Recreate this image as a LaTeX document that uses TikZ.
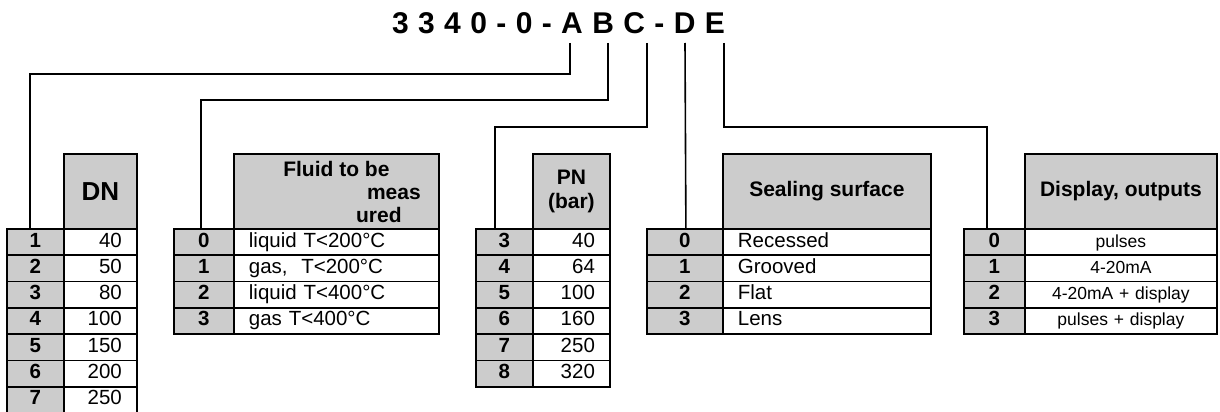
\documentclass[tikz,border=0pt]{standalone}
\usepackage{fontspec}
\setmainfont{Liberation Sans}
\usetikzlibrary{positioning, calc}

\newcommand{\setpx}[2]{\fontsize{#1}{#2}\selectfont}

\begin{document}
\begin{tikzpicture}[
    x=1pt, y=-1pt,
    cell/.style={draw=black, line width=1.8pt, minimum height=26.3pt, inner sep=0pt, anchor=north west},
    keycell/.style={cell, fill=gray!40, font=\bfseries\setpx{20.5}{24}, text height=14pt, text depth=4pt},
    valcell/.style={cell, fill=white, font=\setpx{20.5}{24}, inner xsep=15pt, text height=14pt, text depth=4pt},
    headcell/.style={cell, fill=gray!40, font=\bfseries\setpx{21}{24}, minimum height=75.3pt, align=center},
    codetitle/.style={font={\bfseries\setpx{30}{36}\spaceskip=9.4pt\relax}, anchor=base, inner sep=0pt},
    link/.style={line width=1.6pt}
]
    \useasboundingbox (0,0) rectangle (1220,412);

    % Order code
    \node[codetitle] (code) at (558.5,34) {3 3 4 0 - 0 - A B C - D E};
    \coordinate (cA) at (570,43);
    \coordinate (cB) at (608,43);
    \coordinate (cC) at (647,43);
    \coordinate (cD) at (685,43);
    \coordinate (cE) at (724,43);

    % A: nominal diameter
    \node[headcell, minimum width=73pt, font=\bfseries\setpx{26}{30}] (dn-head) at (63,153) {DN};
    \foreach \k/\v [count=\i from 0] in {1/40, 2/50, 3/80, 4/100, 5/150, 6/200, 7/250} {
        \node[keycell, minimum width=57pt] (dn-k\k) at (6,{228+26.3*\i}) {\k};
        \node[valcell, text width=43pt, align=right] (dn-v\k) at (63,{228+26.3*\i}) {\v};
    }

    % B: fluid
    \node[headcell, minimum width=205pt, font=\bfseries\setpx{21}{23}] (fl-head) at (233,153)
        {Fluid to be\\\hspace*{115pt}meas\\\hspace*{85pt}ured};
    \foreach \k/\v [count=\i from 0] in {0/liquid T<200°C, 1/{gas,~ T<200°C}, 2/liquid T<400°C, 3/gas T<400°C} {
        \node[keycell, minimum width=60pt] (fl-k\k) at (173,{228+26.3*\i}) {\k};
        \node[valcell, text width=175pt, align=left] (fl-v\k) at (233,{228+26.3*\i}) {\v};
    }

    % C: nominal pressure
    \node[headcell, minimum width=77pt] (pn-head) at (532,153) {PN\\(bar)};
    \foreach \k/\v [count=\i from 0] in {3/40, 4/64, 5/100, 6/160, 7/250, 8/320} {
        \node[keycell, minimum width=57pt] (pn-k\k) at (475,{228+26.3*\i}) {\k};
        \node[valcell, text width=47pt, align=right] (pn-v\k) at (532,{228+26.3*\i}) {\v};
    }

    % D: sealing surface
    \node[headcell, minimum width=208pt] (se-head) at (722,153) {Sealing surface};
    \foreach \k/\v [count=\i from 0] in {0/Recessed, 1/Grooved, 2/Flat, 3/Lens} {
        \node[keycell, minimum width=76pt] (se-k\k) at (646,{228+26.3*\i}) {\k};
        \node[valcell, text width=178pt, align=left] (se-v\k) at (722,{228+26.3*\i}) {\v};
    }

    % E: display and outputs
    \node[headcell, minimum width=192pt] (do-head) at (1024,153) {Display, outputs};
    \foreach \k/\v [count=\i from 0] in {0/pulses, 1/4-20mA, 2/4-20mA + display, 3/pulses + display} {
        \node[keycell, minimum width=61pt] (do-k\k) at (963,{228+26.3*\i}) {\k};
        \node[valcell, text width=162pt, align=center, font=\setpx{17.5}{21}] (do-v\k) at (1024,{228+26.3*\i}) {\v};
    }

    % Leaders from the code letters
    \draw[link] (cA) -- ++(0,31) -| ([xshift=-5.5pt]dn-k1.north);
    \draw[link] (cB) -- ++(0,57) -| ([xshift=-3pt]fl-k0.north);
    \draw[link] (cC) -- ++(0,84) -| ([xshift=-9.5pt]pn-k3.north);
    \draw[link] (cD) -- ([xshift=1pt]se-k0.north);
    \draw[link] (cE) -- ++(0,84) -| ([xshift=-7.5pt]do-k0.north);
\end{tikzpicture}
\end{document}
